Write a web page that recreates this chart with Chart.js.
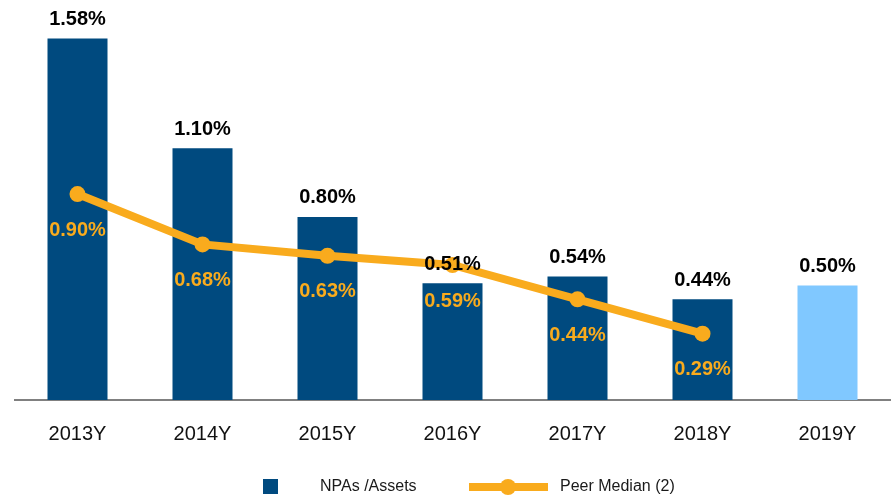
<!DOCTYPE html>
<html>
<head>
<meta charset="utf-8">
<script src="https://cdn.jsdelivr.net/npm/chart.js@4.4.1/dist/chart.umd.min.js"></script>
<style>
  html, body { margin: 0; padding: 0; background: #fff; overflow: hidden; }
  #wrap { width: 898px; height: 498px; position: relative; }
</style>
</head>
<body>
<div id="wrap"><canvas id="chart"></canvas></div>
<script>
// data
const years = ["2013Y", "2014Y", "2015Y", "2016Y", "2017Y", "2018Y", "2019Y"];
const npaAssets = [1.58, 1.10, 0.80, 0.51, 0.54, 0.44, 0.50];
const peerMedian = [0.90, 0.68, 0.63, 0.59, 0.44, 0.29, null];

const DARK_BLUE = "#004A7F";
const LIGHT_BLUE = "#80C8FF";
const ORANGE = "#F9AB1D";
const FONT = "'Liberation Sans', Arial, sans-serif";

// labels above bars / under line points, plus a hand drawn legend
const labelPlugin = {
    id: "labels",
    afterDatasetsDraw(chart) {
        const ctx = chart.ctx;
        ctx.save();
        ctx.textAlign = "center";
        ctx.textBaseline = "middle";
        ctx.font = "bold 20px " + FONT;

        // bar values
        ctx.fillStyle = "#000";
        chart.getDatasetMeta(0).data.forEach((bar, i) => {
            ctx.fillText(npaAssets[i].toFixed(2) + "%", bar.x, bar.y - 19);
        });

        // peer median values
        ctx.fillStyle = ORANGE;
        chart.getDatasetMeta(1).data.forEach((pt, i) => {
            if (peerMedian[i] == null) return;
            ctx.fillText(peerMedian[i].toFixed(2) + "%", pt.x, pt.y + 36);
        });

        // legend
        const ly = 487;
        ctx.textAlign = "left";
        ctx.font = "16px " + FONT;
        ctx.fillStyle = DARK_BLUE;
        ctx.fillRect(263, ly - 8, 15, 15);
        ctx.fillStyle = "#1a1a1a";
        ctx.fillText("NPAs /Assets", 320, ly);

        ctx.strokeStyle = ORANGE;
        ctx.lineWidth = 8;
        ctx.beginPath();
        ctx.moveTo(469, ly);
        ctx.lineTo(548, ly);
        ctx.stroke();
        ctx.fillStyle = ORANGE;
        ctx.beginPath();
        ctx.arc(508, ly, 8, 0, Math.PI * 2);
        ctx.fill();
        ctx.fillStyle = "#1a1a1a";
        ctx.fillText("Peer Median (2)", 560, ly);
        ctx.restore();
    }
};

const ctx = document.getElementById("chart").getContext("2d");
new Chart(ctx, {
    type: "bar",
    data: {
        labels: years,
        datasets: [
            {
                label: "NPAs /Assets",
                data: npaAssets,
                backgroundColor: years.map((y, i) => i === years.length - 1 ? LIGHT_BLUE : DARK_BLUE),
                barPercentage: 0.48,
                categoryPercentage: 1,
                order: 2
            },
            {
                label: "Peer Median (2)",
                type: "line",
                data: peerMedian,
                borderColor: ORANGE,
                backgroundColor: ORANGE,
                borderWidth: 8,
                pointRadius: 8,
                pointHoverRadius: 8,
                pointBackgroundColor: ORANGE,
                pointBorderWidth: 0,
                tension: 0,
                order: 1
            }
        ]
    },
    options: {
        responsive: true,
        maintainAspectRatio: false,
        animation: false,
        layout: { padding: { left: 15, right: 0, top: 11, bottom: 30 } },
        plugins: {
            legend: { display: false },
            tooltip: { enabled: false }
        },
        scales: {
            x: {
                grid: { display: false, drawTicks: false },
                border: { display: true, color: "#808080", width: 2 },
                ticks: {
                    color: "#111",
                    font: { family: FONT, size: 20 },
                    padding: 22
                }
            },
            y: {
                display: false,
                min: 0,
                max: 1.7
            }
        }
    },
    plugins: [labelPlugin]
});
</script>
</body>
</html>
